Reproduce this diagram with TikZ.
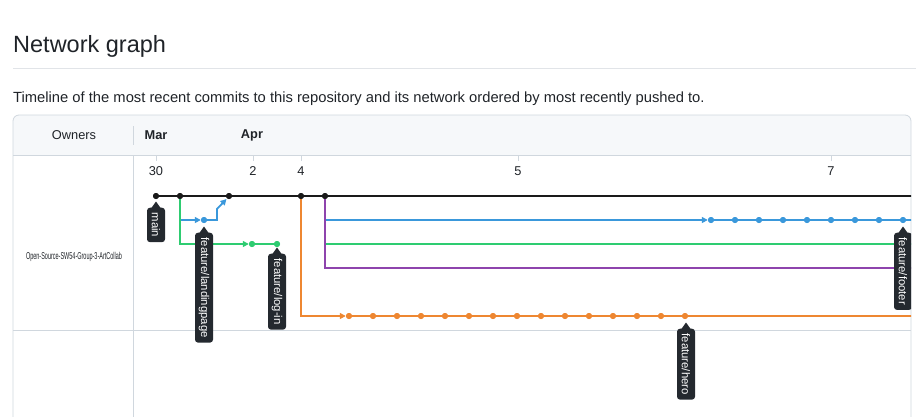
\documentclass[tikz,border=0pt]{standalone}
\usepackage{fontspec}
\setmainfont{Liberation Sans}
\usetikzlibrary{arrows.meta,calc}
\definecolor{ink}{HTML}{1F2328}
\definecolor{tipc}{HTML}{24292F}
\definecolor{bordc}{HTML}{D0D7DE}
\definecolor{rulec}{HTML}{E1E4E8}
\definecolor{headc}{HTML}{F6F8FA}
\definecolor{blu}{HTML}{3A98DB}
\definecolor{grn}{HTML}{2ECC71}
\definecolor{org}{HTML}{EE8731}
\definecolor{pur}{HTML}{8E44AD}
\definecolor{mainc}{HTML}{1A1A1A}
\begin{document}
\begin{tikzpicture}[x=1pt,y=-1pt,
  commit/.style={circle,fill=#1,inner sep=0pt,minimum size=6pt},
  branch/.style={draw=#1,line width=1.8pt},
  arr/.style={-{Triangle[length=6pt,width=6pt]}},
  tiplabel/.style={fill=tipc,text=white,rounded corners=3pt,rotate=-90,anchor=west,
    font=\fontsize{11.3}{11.3}\selectfont,inner xsep=5pt,inner ysep=0pt,minimum height=18pt},
  datelbl/.style={text=ink,font=\fontsize{12.8}{12.8}\selectfont},
  hdr/.style={text=ink,font=\fontsize{12.8}{12.8}\selectfont}
]
\useasboundingbox (0,0) rectangle (916,416);
% title
\node[anchor=base west,inner sep=0pt,text=ink,font=\fontsize{23.5}{23.5}\selectfont] (title) at (13,52) {Network graph};
\draw[rulec,line width=0.8pt] (13,68) -- (916,68);
\node[anchor=base west,inner sep=0pt,text=ink,font=\fontsize{14.75}{14.75}\selectfont] (sub) at (13,102) {Timeline of the most recent commits to this repository and its network ordered by most recently pushed to.};
% box
\fill[headc] (13,155) -- (13,121) arc[start angle=180,end angle=270,radius=6] -- (905,115) arc[start angle=270,end angle=360,radius=6] -- (911,155) -- cycle;
\draw[bordc,line width=0.8pt] (13,420) -- (13,121) arc[start angle=180,end angle=270,radius=6] -- (905,115) arc[start angle=270,end angle=360,radius=6] -- (911,420);
\draw[bordc,line width=0.8pt] (13,155) -- (911,155);
\draw[bordc,line width=0.8pt] (13,330) -- (911,330);
\draw[bordc,line width=0.8pt] (133,126) -- (133,145);
\draw[bordc,line width=0.8pt] (133,155) -- (133,420);
\node[hdr] (owners) at (74,135) {Owners};
\node[hdr,font=\fontsize{12.8}{12.8}\selectfont\bfseries] (mar) at (156,135) {Mar};
\node[hdr,font=\fontsize{12.8}{12.8}\selectfont\bfseries] (apr) at (252,135) {Apr};
\foreach \x/\t in {156/30,253/2,301/4,518/5,831/7}{
  \draw[bordc,line width=0.8pt] (\x,155) -- (\x,161);
  \node[datelbl] at (\x,171) {\t};
}
\node[text=ink,inner sep=0pt] (repo) at (74,257) {\scalebox{0.55}[1]{\fontsize{10}{10}\selectfont Open-Source-SW54-Group-3-ArtCollab}};
% graph
\begin{scope}
\clip (13,155) rectangle (911,416);
% commits on main
\node[commit=mainc] (m1) at (156,196) {};
\node[commit=mainc] (m2) at (180,196) {};
\node[commit=mainc] (m3) at (229,196) {};
\node[commit=mainc] (m4) at (301,196) {};
\node[commit=mainc] (m5) at (325,196) {};
\coordinate (mend) at (916,196);
% landingpage branch
\node[commit=blu] (b1) at (204,220) {};
\coordinate (bc1) at (180,220);
\coordinate (bc2) at (217,220);
\coordinate (bc3) at (217,209);
\coordinate (bc4) at (226.5,199);
% login branch
\node[commit=grn] (g1) at (252,244) {};
\node[commit=grn] (g2) at (277,244) {};
\coordinate (gc1) at (180,244);
% footer branch
\coordinate (fb) at (325,220);
\foreach \i in {0,...,8}{\node[commit=blu] (f\i) at (711+24*\i,220) {};}
\coordinate (fend) at (916,220);
\coordinate (gr2) at (325,244);
\coordinate (gend) at (916,244);
\coordinate (pc) at (325,268);
\coordinate (pend) at (916,268);
% hero branch
\coordinate (hc) at (301,316);
\foreach \i in {0,...,14}{\node[commit=org] (h\i) at (349+24*\i,316) {};}
\coordinate (hend) at (916,316);
% lines
\draw[branch=blu,arr] (m2) -- (bc1) -- (b1);
\draw[branch=blu,arr] (b1) -- (bc2) -- (bc3) -- (bc4);
\draw[branch=grn,arr] (m2) -- (gc1) -- (g1);
\draw[branch=grn] (g1) -- (g2);
\draw[branch=blu,arr] (fb) -- (f0);
\draw[branch=blu] (f0) -- (fend);
\draw[branch=grn] (gr2) -- (gend);
\draw[branch=pur] (m5) -- (pc) -- (pend);
\draw[branch=org,arr] (m4) -- (hc) -- (h0);
\draw[branch=org] (h0) -- (hend);
\draw[branch=mainc,line width=2pt] (m1) -- (mend);
% redraw dots on top
\foreach \n/\c in {m1/mainc,m2/mainc,m3/mainc,m4/mainc,m5/mainc,b1/blu,g1/grn,g2/grn}{\fill[\c] (\n) circle (3pt);}
\foreach \i in {0,...,8}{\fill[blu] (f\i) circle (3pt);}
\foreach \i in {0,...,14}{\fill[org] (h\i) circle (3pt);}
% labels
\node[tiplabel] (lmain) at (156,207.5) {main};
\node[tiplabel] (llanding) at (204,232.5) {feature/landingpage};
\node[tiplabel] (llogin) at (277,253.5) {feature/log-in};
\node[tiplabel] (lfooter) at (903,232.5) {feature/footer};
\node[tiplabel] (lhero) at (686,328.5) {feature/hero};
\foreach \l in {lmain,llanding,llogin,lfooter,lhero}{
  \fill[tipc] ($(\l.west)+(-5,1)$) -- ($(\l.west)+(0,-6)$) -- ($(\l.west)+(5,1)$) -- cycle;
}
\end{scope}
\end{tikzpicture}
\end{document}
